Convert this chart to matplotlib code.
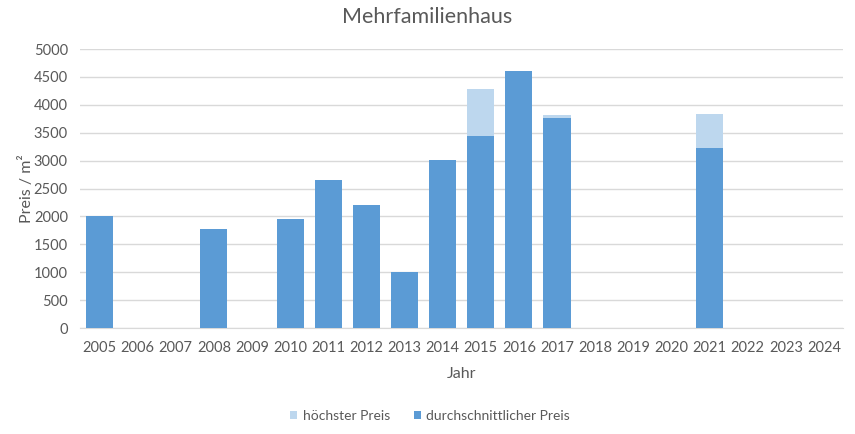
import numpy as np
from matplotlib import pyplot as plt

plt.rcParams['font.family'] = ['Lato', 'DejaVu Sans']

years = [str(y) for y in range(2005, 2025)]
avg_price = [2000, 0, 0, 1780, 0, 1950, 2650, 2200, 1000, 3020,
             3440, 4600, 3760, 0, 0, 0, 3225, 0, 0, 0]
max_price = [0, 0, 0, 0, 0, 0, 0, 0, 0, 0,
             4280, 0, 3820, 0, 0, 0, 3835, 0, 0, 0]

text_col = '#595959'
fig = plt.figure(figsize=(8.55, 4.34), dpi=100)
ax = fig.add_axes([0.094, 0.2442, 0.892, 0.6428])

x = np.arange(len(years))
ax.bar(x, max_price, width=0.71, color='#bdd7ee', label='höchster Preis', zorder=2)
ax.bar(x, avg_price, width=0.71, color='#5b9bd5', label='durchschnittlicher Preis', zorder=3)

ax.set_xlim(-0.5, len(years) - 0.5)
ax.set_ylim(0, 5000)
ax.set_yticks(range(0, 5001, 500))
ax.set_xticks(x)
ax.set_xticklabels(years)
ax.yaxis.grid(True, color='#d9d9d9', linewidth=1, zorder=0)
ax.set_axisbelow(True)
for s in ['top', 'right', 'left']:
    ax.spines[s].set_visible(False)
ax.spines['bottom'].set_color('#d9d9d9')
ax.tick_params(axis='both', length=0, colors=text_col, labelsize=10.5)
ax.tick_params(axis='x', pad=9)
ax.tick_params(axis='y', pad=9)

fig.suptitle('Mehrfamilienhaus', fontsize=15.5, color=text_col, x=0.5, y=0.985, va='top')
ax.set_xlabel('Jahr', fontsize=11.5, color=text_col, labelpad=9)
ax.set_ylabel('Preis / m²', fontsize=11.5, color=text_col, labelpad=0)

leg = fig.legend(loc='lower center', bbox_to_anchor=(0.503, 0.0), ncol=2, frameon=False,
                 fontsize=10, handlelength=0.5, handleheight=0.5, columnspacing=1.7,
                 handletextpad=0.4)
for t in leg.get_texts():
    t.set_color(text_col)

fig.savefig('out.png', dpi=100)
